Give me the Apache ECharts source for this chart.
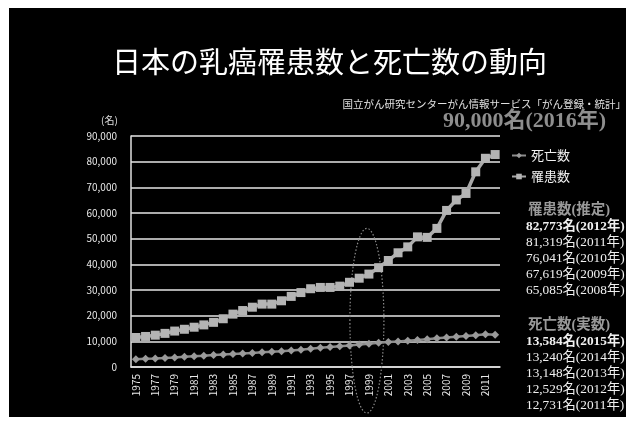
<!DOCTYPE html>
<html>
<head>
<meta charset="utf-8">
<script src="https://cdn.jsdelivr.net/npm/echarts@6/dist/echarts.min.js"></script>
<style>
  html, body { margin: 0; padding: 0; background: #ffffff; }
  #frame { position: absolute; left: 9px; top: 8px; width: 617px; height: 409px; background: #000000; }
  #chart { position: absolute; left: 0; top: 0; width: 634px; height: 425px; }
</style>
</head>
<body>
<div id="frame"></div>
<div id="chart"></div>
<script>
// Years on the category axis
const years = ['1975','1976','1977','1978','1979','1980','1981','1982','1983','1984',
  '1985','1986','1987','1988','1989','1990','1991','1992','1993','1994',
  '1995','1996','1997','1998','1999','2000','2001','2002','2003','2004',
  '2005','2006','2007','2008','2009','2010','2011','2012'];

// Breast cancer incidence (estimated), persons
const incidence = [11500, 11900, 12400, 13100, 14000, 14700, 15500, 16400, 17400, 18800,
  20600, 22000, 23300, 24500, 24500, 25800, 27500, 29000, 30500, 31000,
  31000, 31500, 33000, 34600, 36200, 38700, 41500, 44500, 46800, 50700,
  50500, 54000, 61000, 65085, 67619, 76041, 81319, 82773];

// Breast cancer deaths (actual), persons
const deaths = [3000, 3200, 3300, 3500, 3700, 4000, 4200, 4400, 4700, 4900,
  5100, 5300, 5500, 5700, 5900, 6100, 6400, 6700, 7100, 7500,
  7800, 8100, 8400, 8800, 9100, 9400, 9700, 9900, 10200, 10500,
  10800, 11200, 11500, 11800, 12100, 12400, 12731, 12529];

// Later death counts listed in the side note (beyond the plotted range)
const laterDeathYears = ['2015', '2014', '2013'];
const laterDeaths = [13584, 13240, 13148];

const titleText = '日本の乳癌罹患数と死亡数の動向';
const sourceText = '国立がん研究センターがん情報サービス「がん登録・統計」';
const forecastText = '90,000名(2016年)';
const incidenceHeader = '罹患数(推定)';
const deathHeader = '死亡数(実数)';

const fmt = (v, y) => v.toLocaleString('en-US') + '名(' + y + '年)';

// Side note lines: last five incidence years, newest first
const incidenceNotes = [];
for (let i = years.length - 1; i >= years.length - 5; i--) incidenceNotes.push(fmt(incidence[i], years[i]));
const deathNotes = laterDeathYears.map((y, i) => fmt(laterDeaths[i], y));
for (let i = years.length - 1; i >= years.length - 2; i--) deathNotes.push(fmt(deaths[i], years[i]));

const jp = '"Noto Sans CJK JP", "Noto Sans", sans-serif';
const serif = '"Liberation Serif", "Noto Sans CJK JP", serif';

function noteBlock(header, lines, top) {
  const els = [{
    type: 'text', left: 528, top: top - 1,
    style: { text: header, fill: '#9a9a9a', font: 'bold 14.5px ' + serif }
  }];
  lines.forEach((t, i) => {
    els.push({
      type: 'text', left: 526, top: top + 16 * (i + 1),
      style: { text: t, fill: '#f0f0f0', font: (i === 0 ? 'bold ' : '') + '13.3px ' + serif }
    });
  });
  return els;
}

const chart = echarts.init(document.getElementById('chart'));
chart.setOption({
  backgroundColor: 'transparent',
  animation: false,
  grid: { left: 131, right: 134, top: 136, bottom: 58 },
  legend: {
    data: ['死亡数', '罹患数'],
    orient: 'vertical',
    left: 506, top: 144,
    itemWidth: 14, itemHeight: 7, itemGap: 8,
    textStyle: { color: '#f0f0f0', fontSize: 13, fontFamily: jp }
  },
  xAxis: {
    type: 'category',
    data: years,
    axisLine: { lineStyle: { color: '#e0e0e0', width: 1.5 } },
    axisTick: { show: false },
    axisLabel: { interval: 1, rotate: 90, color: '#e8e8e8', fontSize: 10, fontFamily: jp, margin: 7 }
  },
  yAxis: {
    type: 'value',
    min: 0, max: 90000, interval: 10000,
    axisLine: { show: true, lineStyle: { color: '#e0e0e0', width: 1.5 } },
    axisTick: { show: false },
    axisLabel: {
      color: '#e8e8e8', fontSize: 10, fontFamily: jp, margin: 14,
      formatter: v => v.toLocaleString('en-US')
    },
    splitLine: { lineStyle: { color: '#e6e6e6', width: 1.5 } }
  },
  series: [
    {
      name: '罹患数', type: 'line', data: incidence,
      symbol: 'rect', symbolSize: 9, showAllSymbol: true,
      lineStyle: { color: '#a8a8a8', width: 3.5 },
      itemStyle: { color: '#b4b4b4' }
    },
    {
      name: '死亡数', type: 'line', data: deaths,
      symbol: 'diamond', symbolSize: 8, showAllSymbol: true,
      lineStyle: { color: '#8c8c8c', width: 2.5 },
      itemStyle: { color: '#9a9a9a' }
    }
  ],
  graphic: [
    {
      type: 'text', left: 112, top: 47,
      style: { text: titleText, fill: '#ffffff', font: '29px ' + jp }
    },
    {
      type: 'text', right: 8, top: 99,
      style: { text: sourceText, fill: '#e0e0e0', font: '10.5px ' + jp }
    },
    {
      type: 'text', left: 101, top: 115,
      style: { text: '(名)', fill: '#e0e0e0', font: '10px ' + jp }
    },
    {
      type: 'text', left: 443, top: 110,
      style: { text: forecastText, fill: '#8e8e8e', font: 'bold 22px ' + serif }
    }
  ].concat(noteBlock(incidenceHeader, incidenceNotes, 204))
   .concat(noteBlock(deathHeader, deathNotes, 319))
});

// Dotted ring around the late-1990s section of both lines
const cx = chart.convertToPixel({ xAxisIndex: 0 }, '1999') - 2;
const yTop = chart.convertToPixel({ yAxisIndex: 0 }, 54000);
const yBottom = 413;
const opt = chart.getOption();
const g = opt.graphic[0].elements.slice();
g.push({
  type: 'ellipse',
  shape: { cx: cx, cy: (yTop + yBottom) / 2, rx: 17, ry: (yBottom - yTop) / 2 },
  style: { fill: 'none', stroke: '#8a8a8a', lineWidth: 1.2, lineDash: [1.5, 2] },
  z: 1
});
chart.setOption({ graphic: g }, { replaceMerge: ['graphic'] });
</script>
</body>
</html>
